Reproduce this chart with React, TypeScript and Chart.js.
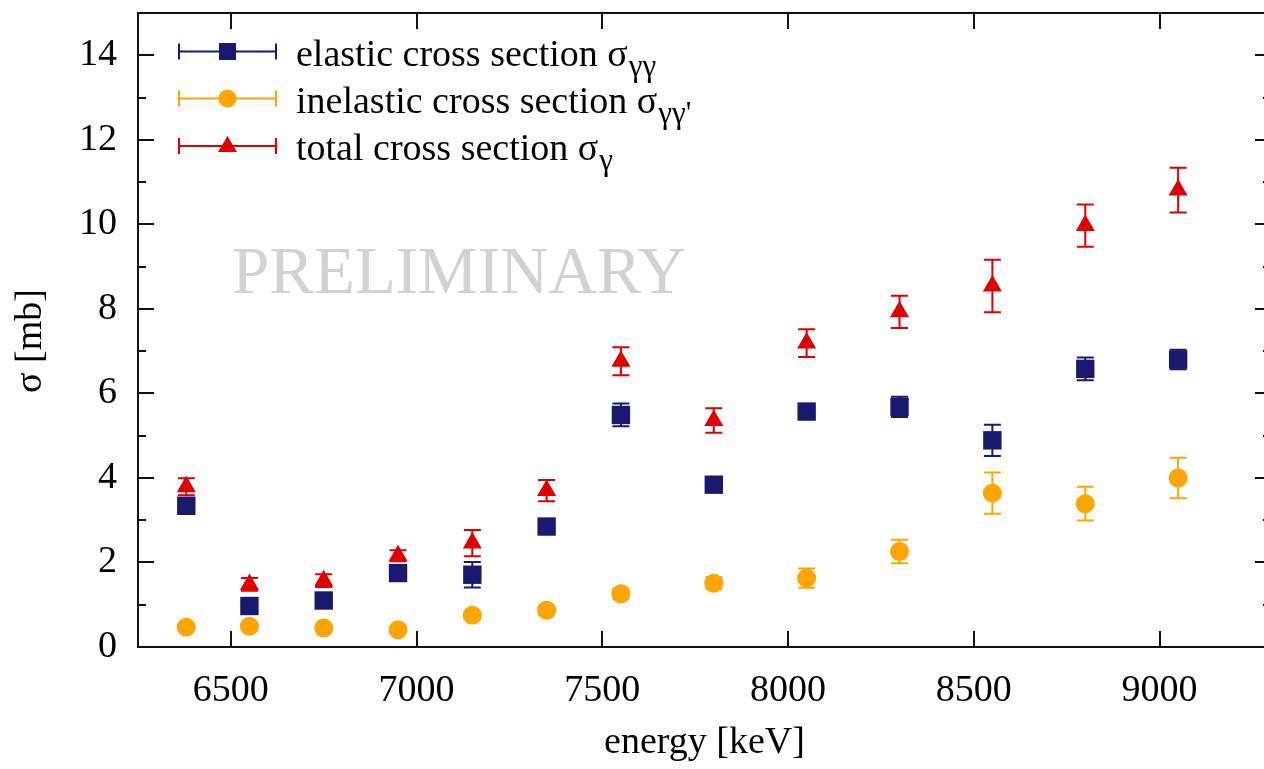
import React, { useEffect, useRef } from 'react';
import { Chart, registerables } from 'chart.js';

Chart.register(...registerables);

// ---- data ----
const energies = [6380, 6550, 6750, 6950, 7150, 7350, 7550, 7800, 8050, 8300, 8550, 8800, 9050];
const elasticValues = [3.34, 0.97, 1.1, 1.75, 1.71, 2.85, 5.49, 3.84, 5.57, 5.68, 4.89, 6.58, 6.8];
const elasticErrors = [0.12, 0.1, 0.1, 0.1, 0.3, 0.12, 0.27, 0.12, 0.12, 0.24, 0.37, 0.27, 0.23];
const inelasticValues = [0.47, 0.49, 0.45, 0.41, 0.75, 0.87, 1.26, 1.51, 1.63, 2.26, 3.64, 3.39, 4.0];
const inelasticErrors = [0.05, 0.05, 0.05, 0.05, 0.08, 0.1, 0.12, 0.14, 0.23, 0.28, 0.49, 0.4, 0.48];
const totalValues = [3.79, 1.48, 1.57, 2.16, 2.46, 3.7, 6.76, 5.36, 7.19, 7.93, 8.54, 9.97, 10.81];
const totalErrors = [0.2, 0.15, 0.15, 0.13, 0.31, 0.25, 0.33, 0.29, 0.33, 0.38, 0.62, 0.5, 0.53];

const xTicks = [6500, 7000, 7500, 8000, 8500, 9000];
const yMajorTicks = [0, 2, 4, 6, 8, 10, 12, 14];
const yMinorTicks = [1, 3, 5, 7, 9, 11, 13];

const legendMain = ['elastic cross section σ', 'inelastic cross section σ', 'total cross section σ'];
const legendSub = ['γγ', "γγ'", 'γ'];
const xTitle = 'energy [keV]';
const yTitle = 'σ [mb]';
const watermark = 'PRELIMINARY';

const NAVY = '#191970';
const ORANGE = '#ffa500';
const RED = '#e00000';
const FONT = '"Liberation Serif", "Times New Roman", serif';

const seriesColors = [NAVY, ORANGE, RED];
const seriesErrors = [elasticErrors, inelasticErrors, totalErrors];
const seriesValues = [elasticValues, inelasticValues, totalValues];

function drawMarker(ctx: CanvasRenderingContext2D, style: string, x: number, y: number, color: string) {
  ctx.save();
  ctx.fillStyle = color;
  ctx.beginPath();
  if (style === 'rect') {
    ctx.rect(x - 8.5, y - 8.5, 17, 17);
  } else if (style === 'circle') {
    ctx.arc(x, y, 9, 0, Math.PI * 2);
  } else {
    ctx.moveTo(x, y - 10);
    ctx.lineTo(x + 9.5, y + 6);
    ctx.lineTo(x - 9.5, y + 6);
    ctx.closePath();
  }
  ctx.fill();
  ctx.restore();
}

const decoPlugin = {
  id: 'gnuplotDeco',
  beforeDatasetsDraw(chart: any) {
    const ctx = chart.ctx as CanvasRenderingContext2D;
    ctx.save();
    ctx.font = `67px ${FONT}`;
    ctx.fillStyle = '#d2d2d2';
    ctx.textBaseline = 'alphabetic';
    ctx.textAlign = 'left';
    ctx.fillText(watermark, 232, 293);
    ctx.restore();
  },
  beforeDatasetDraw(chart: any, args: any) {
    const idx = args.index;
    const ctx = chart.ctx as CanvasRenderingContext2D;
    const xs = chart.scales.x;
    const ys = chart.scales.y;
    const errs = seriesErrors[idx];
    const vals = seriesValues[idx];
    ctx.save();
    ctx.strokeStyle = seriesColors[idx];
    ctx.lineWidth = 2;
    for (let i = 0; i < energies.length; i++) {
      const px = xs.getPixelForValue(energies[i]);
      const yt = ys.getPixelForValue(vals[i] + errs[i]);
      const yb = ys.getPixelForValue(vals[i] - errs[i]);
      ctx.beginPath();
      ctx.moveTo(px, yt);
      ctx.lineTo(px, yb);
      ctx.moveTo(px - 8.5, yt);
      ctx.lineTo(px + 8.5, yt);
      ctx.moveTo(px - 8.5, yb);
      ctx.lineTo(px + 8.5, yb);
      ctx.stroke();
    }
    ctx.restore();
  },
  afterDraw(chart: any) {
    const ctx = chart.ctx as CanvasRenderingContext2D;
    const a = chart.chartArea;
    const xs = chart.scales.x;
    const ys = chart.scales.y;
    ctx.save();
    ctx.strokeStyle = '#111';
    ctx.lineWidth = 2;
    ctx.strokeRect(a.left, a.top, a.right - a.left, a.bottom - a.top);
    ctx.beginPath();
    for (const t of xTicks) {
      const px = Math.round(xs.getPixelForValue(t));
      ctx.moveTo(px, a.bottom);
      ctx.lineTo(px, a.bottom - 16);
      ctx.moveTo(px, a.top);
      ctx.lineTo(px, a.top + 16);
    }
    for (const t of yMajorTicks) {
      const py = Math.round(ys.getPixelForValue(t));
      ctx.moveTo(a.left, py);
      ctx.lineTo(a.left + 16, py);
      ctx.moveTo(a.right, py);
      ctx.lineTo(a.right - 16, py);
    }
    for (const t of yMinorTicks) {
      const py = Math.round(ys.getPixelForValue(t));
      ctx.moveTo(a.left, py);
      ctx.lineTo(a.left + 8, py);
      ctx.moveTo(a.right, py);
      ctx.lineTo(a.right - 8, py);
    }
    ctx.stroke();

    // axis titles
    ctx.fillStyle = '#000';
    ctx.font = `38px ${FONT}`;
    ctx.textAlign = 'center';
    ctx.textBaseline = 'alphabetic';
    ctx.fillText(xTitle, (a.left + a.right) / 2, 753);
    ctx.save();
    ctx.translate(31, 341);
    ctx.rotate(-Math.PI / 2);
    ctx.textBaseline = 'middle';
    ctx.fillText(yTitle, 0, 0);
    ctx.restore();

    // legend
    const rows = [51.5, 98.5, 146];
    const styles = ['rect', 'circle', 'triangle'];
    for (let i = 0; i < 3; i++) {
      const y = rows[i];
      ctx.strokeStyle = seriesColors[i];
      ctx.lineWidth = 2;
      ctx.beginPath();
      ctx.moveTo(179, y);
      ctx.lineTo(276, y);
      ctx.moveTo(179, y - 8);
      ctx.lineTo(179, y + 8);
      ctx.moveTo(276, y - 8);
      ctx.lineTo(276, y + 8);
      ctx.stroke();
      drawMarker(ctx, styles[i], 227.5, y, seriesColors[i]);
      ctx.fillStyle = '#000';
      ctx.textAlign = 'left';
      ctx.textBaseline = 'alphabetic';
      ctx.font = `38px ${FONT}`;
      ctx.fillText(legendMain[i], 296, y + 14);
      const w = ctx.measureText(legendMain[i]).width;
      ctx.font = `31px ${FONT}`;
      ctx.fillText(legendSub[i], 297 + w, y + 24);
    }
    ctx.restore();
  },
};

export default function App() {
  const ref = useRef<HTMLCanvasElement | null>(null);
  useEffect(() => {
    if (!ref.current) return;
    const chart = new Chart(ref.current, {
      type: 'scatter',
      data: {
        datasets: [
          {
            label: 'elastic cross section',
            data: energies.map((e, i) => ({ x: e, y: elasticValues[i] })),
            pointStyle: 'rect',
            pointRadius: 13,
            backgroundColor: NAVY,
            borderColor: NAVY,
            borderWidth: 0,
            order: 2,
          },
          {
            label: 'inelastic cross section',
            data: energies.map((e, i) => ({ x: e, y: inelasticValues[i] })),
            pointStyle: 'circle',
            pointRadius: 9.5,
            backgroundColor: ORANGE,
            borderColor: ORANGE,
            borderWidth: 0,
            order: 1,
          },
          {
            label: 'total cross section',
            data: energies.map((e, i) => ({ x: e, y: totalValues[i] })),
            pointStyle: 'triangle',
            pointRadius: 11,
            backgroundColor: RED,
            borderColor: RED,
            borderWidth: 0,
            order: 0,
          },
        ],
      },
      options: {
        animation: false,
        responsive: false,
        maintainAspectRatio: false,
        devicePixelRatio: 1,
        layout: { padding: { top: 11, right: 19, left: 0, bottom: 0 } },
        plugins: { legend: { display: false }, tooltip: { enabled: false } },
        scales: {
          x: {
            type: 'linear',
            min: 6250,
            max: 9300,
            grid: { display: false, drawTicks: false },
            border: { display: false },
            afterBuildTicks: (s: any) => {
              s.ticks = xTicks.map((v) => ({ value: v }));
            },
            afterFit: (s: any) => {
              s.height = 122;
              s.paddingLeft = 0;
              s.paddingRight = 0;
            },
            ticks: {
              color: '#000',
              font: { family: FONT, size: 38 },
              padding: 21,
              maxRotation: 0,
              autoSkip: false,
              callback: (v: any) => String(v),
            },
          },
          y: {
            type: 'linear',
            min: 0,
            max: 15,
            grid: { display: false, drawTicks: false },
            border: { display: false },
            afterBuildTicks: (s: any) => {
              s.ticks = yMajorTicks.map((v) => ({ value: v }));
            },
            afterFit: (s: any) => {
              s.width = 138;
              s.paddingTop = 0;
              s.paddingBottom = 0;
            },
            ticks: {
              color: '#000',
              font: { family: FONT, size: 38 },
              padding: 21,
              autoSkip: false,
              callback: (v: any) => String(v),
            },
          },
        },
      },
      plugins: [decoPlugin],
    });
    return () => chart.destroy();
  }, []);
  return (
    <div style={{ position: 'absolute', left: 0, top: 0, width: 1264, height: 769, overflow: 'hidden', background: '#fff' }}>
      <canvas ref={ref} width={1290} height={769} style={{ display: 'block', width: 1290, height: 769 }} />
    </div>
  );
}
